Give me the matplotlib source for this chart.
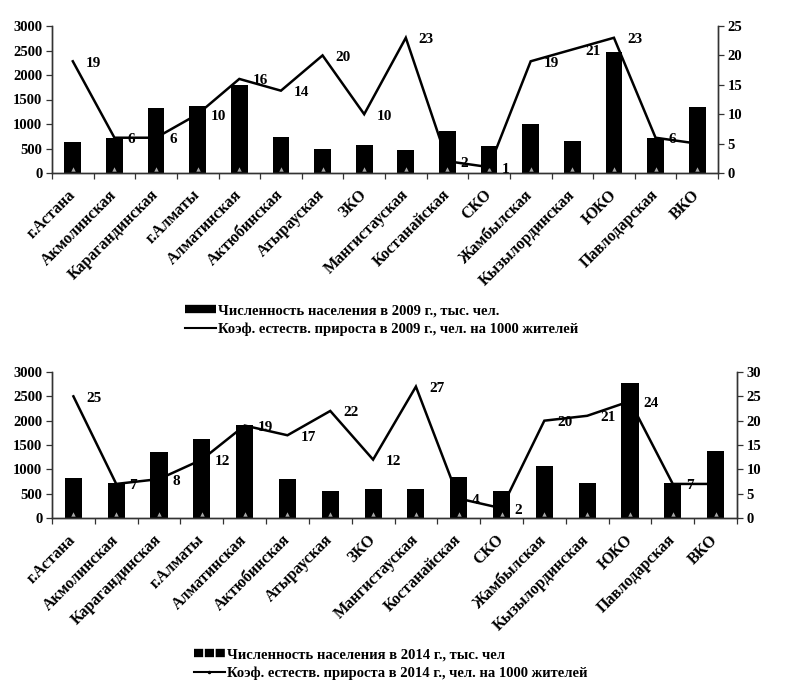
import matplotlib
matplotlib.use('Agg')
import matplotlib.pyplot as plt
import matplotlib.transforms as mtransforms
from matplotlib.lines import Line2D
import numpy as np

plt.rcParams['font.family'] = ['Liberation Serif', 'DejaVu Serif']
plt.rcParams['font.weight'] = 'bold'

regions = ["г.Астана", "Акмолинская", "Карагандинская", "г.Алматы", "Алматинская",
           "Актюбинская", "Атырауская", "ЗКО", "Мангистауская", "Костанайская", "СКО",
           "Жамбылская", "Кызылординская", "ЮКО", "Павлодарская", "ВКО"]

pop_2009 = [630, 720, 1330, 1370, 1800, 740, 500, 580, 460, 860, 560, 1000, 660, 2470, 720, 1350]
rate_2009 = [19, 6, 6, 10, 16, 14, 20, 10, 23, 2, 1, 19, 21, 23, 6, 5]
label_shown_2009 = [True] * 15 + [False]

pop_2014 = [830, 710, 1350, 1630, 1910, 800, 560, 600, 590, 840, 550, 1060, 720, 2770, 720, 1370]
rate_2014 = [25, 7, 8, 12, 19, 17, 22, 12, 27, 4, 2, 20, 21, 24, 7, 7]
label_shown_2014 = [True] * 15 + [False]

left_ticks = [0, 500, 1000, 1500, 2000, 2500, 3000]
right_ticks_2009 = [0, 5, 10, 15, 20, 25]
right_ticks_2014 = [0, 5, 10, 15, 20, 25, 30]

legend_2009 = ["Численность населения в 2009 г., тыс. чел.",
               "Коэф. естеств. прироста в 2009 г., чел. на 1000 жителей"]
legend_2014 = ["Численность населения в 2014 г., тыс. чел",
               "Коэф. естеств. прироста в 2014 г., чел. на 1000 жителей"]

W, H = 787, 692
fig = plt.figure(figsize=(W / 100, H / 100), dpi=100)


def fig_rect(x0, x1, ytop, ybot):
    return [x0 / W, 1 - ybot / H, (x1 - x0) / W, (ybot - ytop) / H]


def draw(rect, pop, rate, shown, rticks, legend_labels, legend_xy, dashed_handle):
    ax = fig.add_axes(rect)
    ax2 = ax.twinx()
    n = len(regions)
    x = np.arange(n)
    ax.bar(x, pop, width=0.4, color='black', zorder=2)
    # small light triangles at the bar bases
    off = mtransforms.offset_copy(ax.transData, fig=fig, x=0, y=4, units='dots')
    ax.scatter(x, np.zeros(n), marker='^', s=10, color='#a8a8a8', transform=off,
               zorder=3, clip_on=False, linewidths=0)
    ax.set_xlim(-0.5, n - 0.5)
    ax.set_ylim(left_ticks[0], left_ticks[-1])
    ax.set_yticks(left_ticks)
    ax2.set_ylim(rticks[0], rticks[-1])
    ax2.set_yticks(rticks)
    ax2.plot(x, rate, color='black', lw=1.8, zorder=4, solid_joinstyle='miter')
    for xi, r, s in zip(x, rate, shown):
        if s:
            ax2.annotate(str(r), (xi, r), xytext=(13, -2), textcoords='offset pixels',
                         ha='left', va='center', fontsize=11, fontweight='bold')
    ax.set_xticks(x)
    ax.set_xticklabels(regions, rotation=45, ha='right', va='center',
                       rotation_mode='anchor', fontsize=11.5, fontweight='bold')
    ax.set_xticks(np.arange(n + 1) - 0.5, minor=True)
    ax.tick_params(axis='x', which='major', length=0, pad=14)
    ax.tick_params(axis='x', which='minor', length=4, direction='out', width=0.9,
                   color='#333333')
    ax.tick_params(axis='y', length=4, direction='out', width=0.9, color='#333333',
                   labelsize=10.5, pad=3)
    ax2.tick_params(axis='y', length=4, direction='out', width=0.9, color='#333333',
                    labelsize=10.5, pad=3)
    for a in (ax, ax2):
        a.spines['top'].set_visible(False)
        for sp in ('left', 'right', 'bottom'):
            a.spines[sp].set_color('#333333')
            a.spines[sp].set_linewidth(1.0)
        for lab in a.get_yticklabels():
            lab.set_fontweight('bold')
    if dashed_handle:
        bar_h = Line2D([], [], color='black', lw=6, linestyle=(0, (1.1, 0.2)),
                       dash_capstyle='butt')
        line_h = Line2D([], [], color='black', lw=1.5, marker='.', markersize=3,
                        markevery=[0])
    else:
        bar_h = Line2D([], [], color='black', lw=6, solid_capstyle='butt')
        line_h = Line2D([], [], color='black', lw=1.5)
    fig.legend([bar_h, line_h], legend_labels, loc='center left',
               bbox_to_anchor=(legend_xy[0] / W, 1 - legend_xy[1] / H),
               frameon=False, handlelength=2.1, handletextpad=0.15,
               labelspacing=0.35, borderpad=0, borderaxespad=0,
               prop={'weight': 'bold', 'size': 10.5})
    return ax, ax2


draw(fig_rect(52, 718, 26, 173), pop_2009, rate_2009, label_shown_2009,
     right_ticks_2009, legend_2009, (185, 320), False)
draw(fig_rect(52, 737, 372, 518), pop_2014, rate_2014, label_shown_2014,
     right_ticks_2014, legend_2014, (194, 664), True)

fig.savefig('out.png', dpi=100)
